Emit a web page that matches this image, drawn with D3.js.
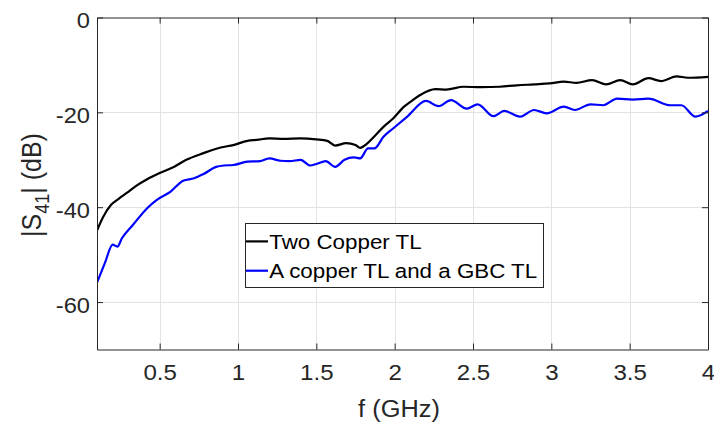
<!DOCTYPE html>
<html>
<head>
<meta charset="utf-8">
<script src="https://cdn.jsdelivr.net/npm/d3@7/dist/d3.min.js"></script>
<style>
  html, body { margin: 0; padding: 0; background: #fff; }
  svg { display: block; font-family: "Liberation Sans", Arial, Helvetica, sans-serif; }
</style>
</head>
<body>
<svg id="chart" width="714" height="422"></svg>
<script>
// Frequency (GHz) and |S41| (dB) samples for the two test structures
const copperFreq = [0.10, 0.14, 0.19, 0.24, 0.29, 0.35, 0.42, 0.50, 0.59, 0.67, 0.78, 0.89, 0.97,
  1.06, 1.12, 1.20, 1.29, 1.40, 1.50, 1.57, 1.62, 1.69, 1.75, 1.78, 1.82, 1.87, 1.93, 1.99,
  2.06, 2.10, 2.16, 2.26, 2.33, 2.44, 2.55, 2.67, 2.78, 2.89, 2.99, 3.08, 3.16, 3.26, 3.35,
  3.44, 3.52, 3.62, 3.70, 3.80, 3.87, 4.00];
const copperS41 = [-44.9, -42.0, -39.5, -38.2, -37.0, -35.5, -34.1, -32.8, -31.5, -30.0, -28.6, -27.4, -26.9,
  -26.0, -25.8, -25.5, -25.6, -25.5, -25.7, -26.0, -27.0, -26.5, -26.9, -27.5, -26.7, -25.1, -23.0, -21.3,
  -18.8, -17.8, -16.4, -15.1, -15.2, -14.6, -14.7, -14.6, -14.3, -14.1, -13.9, -13.5, -13.8, -13.2, -14.1,
  -13.2, -14.1, -12.8, -13.4, -12.4, -12.7, -12.5];

const gbcFreq = [0.10, 0.15, 0.20, 0.23, 0.26, 0.33, 0.42, 0.48, 0.57, 0.65, 0.72, 0.78, 0.86, 0.91, 0.97,
  1.06, 1.14, 1.20, 1.27, 1.33, 1.40, 1.46, 1.50, 1.56, 1.62, 1.68, 1.74, 1.78, 1.83, 1.87,
  1.93, 1.99, 2.08, 2.20, 2.28, 2.36, 2.46, 2.53, 2.63, 2.70, 2.80, 2.89, 2.97, 3.08, 3.15,
  3.25, 3.33, 3.42, 3.52, 3.62, 3.76, 3.83, 3.92, 4.00];
const gbcS41 = [-55.9, -51.8, -47.9, -48.3, -46.5, -43.7, -40.2, -38.5, -36.7, -34.4, -33.9, -33.0, -31.5, -31.2, -31.1,
  -30.4, -30.3, -29.7, -30.2, -30.3, -30.0, -31.2, -30.9, -30.3, -31.5, -30.0, -29.5, -29.7, -27.6, -27.6,
  -25.1, -23.4, -20.9, -17.6, -18.7, -17.4, -19.2, -18.3, -20.8, -19.7, -20.9, -19.5, -20.2, -18.8, -19.5,
  -18.3, -18.5, -17.1, -17.3, -17.1, -18.5, -18.5, -20.9, -19.7];

const xTicks = [0.5, 1, 1.5, 2, 2.5, 3, 3.5, 4];
const yTicks = [-60, -40, -20, 0];
const seriesNames = ["Two Copper TL", "A copper TL and a GBC TL"];
const seriesColors = ["#000000", "#0000ff"];

const svg = d3.select("#chart");
const plotLeft = 97, plotRight = 708, plotTop = 17.5, plotBottom = 349.5;
const axisColor = "#262626";
const tickLen = 6;

// Widen glyphs horizontally a little (Helvetica-style wide rendering)
function widen(sel, k) {
  sel.each(function() {
    const w = this.getComputedTextLength();
    d3.select(this).attr("textLength", w * k).attr("lengthAdjust", "spacingAndGlyphs");
  });
}

const x = d3.scaleLinear().domain([0.1, 4]).range([plotLeft, plotRight]);
const y = d3.scaleLinear().domain([-70, 0]).range([plotBottom, plotTop]);

// Grid lines
const grid = svg.append("g");
grid.selectAll(".gx").data(xTicks.filter(t => t < 4)).join("line")
  .attr("x1", d => Math.round(x(d)) + 0.5).attr("x2", d => Math.round(x(d)) + 0.5)
  .attr("y1", plotTop).attr("y2", plotBottom)
  .attr("stroke", "#e3e3e3").attr("stroke-width", 1);
grid.selectAll(".gy").data(yTicks.filter(t => t > -70 && t < 0)).join("line")
  .attr("y1", d => Math.round(y(d)) + 0.5).attr("y2", d => Math.round(y(d)) + 0.5)
  .attr("x1", plotLeft).attr("x2", plotRight)
  .attr("stroke", "#e3e3e3").attr("stroke-width", 1);

// Data curves
const line = d3.line().curve(d3.curveMonotoneX).x(d => x(d[0])).y(d => y(d[1]));
const copperPts = copperFreq.map((f, i) => [f, copperS41[i]]);
const gbcPts = gbcFreq.map((f, i) => [f, gbcS41[i]]);
svg.append("clipPath").attr("id", "plotclip")
  .append("rect").attr("x", plotLeft).attr("y", plotTop)
  .attr("width", plotRight - plotLeft).attr("height", plotBottom - plotTop);
const curves = svg.append("g").attr("clip-path", "url(#plotclip)");
curves.append("path").datum(copperPts).attr("d", line)
  .attr("fill", "none").attr("stroke", seriesColors[0]).attr("stroke-width", 2.2).attr("stroke-linejoin", "round");
curves.append("path").datum(gbcPts).attr("d", line)
  .attr("fill", "none").attr("stroke", seriesColors[1]).attr("stroke-width", 2.2).attr("stroke-linejoin", "round");

// Axes (box with inward ticks on all four sides); plain hyphen for negatives
const plainFmt = d => String(d);
const xAxisB = d3.axisBottom(x).tickValues(xTicks).tickSize(-tickLen).tickSizeOuter(0).tickPadding(15).tickFormat(plainFmt);
const xAxisT = d3.axisTop(x).tickValues(xTicks).tickSize(-tickLen).tickSizeOuter(0).tickFormat("");
const yAxisL = d3.axisLeft(y).tickValues(yTicks).tickSize(-tickLen).tickSizeOuter(0).tickPadding(7).tickFormat(plainFmt);
const yAxisR = d3.axisRight(y).tickValues(yTicks).tickSize(-tickLen).tickSizeOuter(0).tickFormat("");

function styleAxis(g) {
  g.select(".domain").attr("stroke", axisColor).attr("stroke-width", 1);
  g.selectAll(".tick line").attr("stroke", axisColor);
  g.selectAll(".tick text").attr("fill", axisColor).style("font-size", "21.5px")
    .style("font-family", "'Liberation Sans', Arial, sans-serif");
}
const gxb = svg.append("g").attr("transform", `translate(0,${plotBottom})`).call(xAxisB).call(styleAxis);
svg.append("g").attr("transform", `translate(0,${plotTop})`).call(xAxisT).call(styleAxis);
const gyl = svg.append("g").attr("transform", `translate(${plotLeft},0)`).call(yAxisL).call(styleAxis);
svg.append("g").attr("transform", `translate(${plotRight},0)`).call(yAxisR).call(styleAxis);
gyl.selectAll(".tick text").attr("dy", "0.48em");
widen(gxb.selectAll(".tick text"), 1.12);
widen(gyl.selectAll(".tick text"), 1.1);

// Axis labels
const xl = svg.append("text").attr("x", 399).attr("y", 416.5)
  .attr("text-anchor", "middle").attr("fill", axisColor).style("font-size", "23.5px")
  .text("f (GHz)");
widen(xl, 1.08);
const yl = svg.append("text").attr("transform", `translate(41,185) scale(1.08,1) rotate(-90)`)
  .attr("text-anchor", "middle").attr("fill", axisColor).style("font-size", "25px");
yl.append("tspan").text("|S");
yl.append("tspan").attr("dy", 7).style("font-size", "18px").text("41");
yl.append("tspan").attr("dy", -7).text("| (dB)");

// Legend
const leg = svg.append("g");
leg.append("rect").attr("x", 245.5).attr("y", 223.5).attr("width", 298).attr("height", 64)
  .attr("fill", "#fff").attr("stroke", axisColor).attr("stroke-width", 1);
seriesNames.forEach((name, i) => {
  const base = 248.7 + i * 29.3;
  const cy = base - 7.3;
  leg.append("line").attr("x1", 246).attr("x2", 268).attr("y1", cy).attr("y2", cy)
    .attr("stroke", seriesColors[i]).attr("stroke-width", 2.2);
  const t = leg.append("text").attr("x", 269.3).attr("y", base)
    .attr("fill", "#000").style("font-size", "20.5px").text(name);
  widen(t, 1.09);
});
</script>
</body>
</html>
